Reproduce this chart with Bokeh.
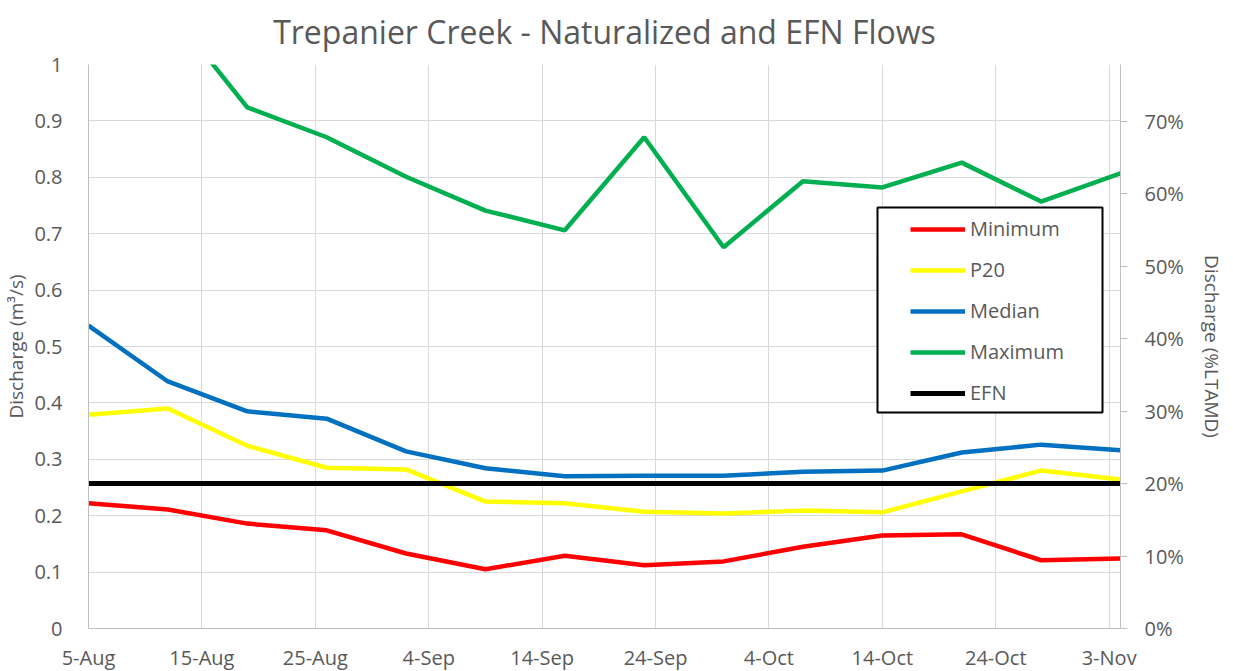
import pandas as pd
from bokeh.plotting import figure
from bokeh.models import (Range1d, LinearAxis, FixedTicker, PrintfTickFormatter,
                          Legend, LegendItem, BoxAnnotation)
from bokeh.embed import file_html
from bokeh.resources import INLINE

# ---------------- data ----------------
dates = ["2019-08-05", "2019-08-12", "2019-08-19", "2019-08-26", "2019-09-02",
         "2019-09-09", "2019-09-16", "2019-09-23", "2019-09-30", "2019-10-07",
         "2019-10-14", "2019-10-21", "2019-10-28", "2019-11-04"]
minimum = [0.222, 0.211, 0.186, 0.174, 0.133, 0.105, 0.129, 0.112, 0.119, 0.145,
           0.165, 0.167, 0.121, 0.124]
p20 = [0.379, 0.390, 0.324, 0.285, 0.282, 0.225, 0.222, 0.207, 0.204, 0.209,
       0.206, 0.243, 0.280, 0.264]
median = [0.537, 0.438, 0.385, 0.372, 0.314, 0.284, 0.270, 0.271, 0.271, 0.278,
          0.280, 0.312, 0.326, 0.316]
maximum = [1.25, 1.10, 0.924, 0.871, 0.801, 0.741, 0.706, 0.871, 0.676, 0.793,
           0.782, 0.826, 0.757, 0.807]
efn_value = 0.257
efn = [efn_value] * len(dates)
efn_pct_of_ltamd = 20.0
ltamd = efn_value / (efn_pct_of_ltamd / 100.0)

tick_dates = ["2019-08-05", "2019-08-15", "2019-08-25", "2019-09-04", "2019-09-14",
              "2019-09-24", "2019-10-04", "2019-10-14", "2019-10-24", "2019-11-03"]
tick_labels = ["5-Aug", "15-Aug", "25-Aug", "4-Sep", "14-Sep", "24-Sep", "4-Oct",
               "14-Oct", "24-Oct", "3-Nov"]
left_ticks = [0, 0.1, 0.2, 0.3, 0.4, 0.5, 0.6, 0.7, 0.8, 0.9, 1]
right_ticks = [0, 10, 20, 30, 40, 50, 60, 70]

# ---------------- derived ----------------
d0 = pd.Timestamp(dates[0])
xd = [(pd.Timestamp(d) - d0).days for d in dates]
xt = [(pd.Timestamp(d) - d0).days for d in tick_dates]

FONT = "Open Sans"
TXT = "#595959"
GRID = "#D9D9D9"
AXIS = "#BFBFBF"

p = figure(frame_width=1032, frame_height=564, output_backend="svg",
           toolbar_location=None,
           x_range=Range1d(xd[0], xd[-1]), y_range=Range1d(0, 1),
           min_border_left=88, min_border_right=105, min_border_top=63,
           min_border_bottom=40)
p.outline_line_color = None
p.background_fill_color = "white"
p.border_fill_color = "white"

p.title.text = "Trepanier Creek - Naturalized and EFN Flows"
p.title.align = "center"
p.title.vertical_align = "top"
p.title.text_font = FONT
p.title.text_font_size = "32px"
p.title.text_font_style = "normal"
p.title.text_color = TXT
p.title.standoff = 19

p.extra_y_ranges = {"pct": Range1d(0, 100.0 / ltamd)}

# lines
r_min = p.line(xd, minimum, line_color="#FF0000", line_width=4.5)
r_p20 = p.line(xd, p20, line_color="#FFFF00", line_width=4.5)
r_med = p.line(xd, median, line_color="#0070C0", line_width=4.5)
r_max = p.line(xd, maximum, line_color="#00B050", line_width=4.5)
r_efn = p.line(xd, efn, line_color="#000000", line_width=5)

# axes
xa = p.xaxis[0]
xa.ticker = FixedTicker(ticks=xt)
xa.major_label_overrides = {t: l for t, l in zip(xt, tick_labels)}
xa.major_tick_line_color = None
xa.minor_tick_line_color = None
xa.axis_line_color = AXIS
xa.major_label_text_font = FONT
xa.major_label_text_font_size = "20px"
xa.major_label_text_color = TXT
xa.major_label_standoff = 9

ya = p.yaxis[0]
ya.ticker = FixedTicker(ticks=left_ticks)
ya.major_label_overrides = {0: "0", 1: "1"}
ya.major_tick_line_color = None
ya.minor_tick_line_color = None
ya.axis_line_color = AXIS
ya.major_label_text_font = FONT
ya.major_label_text_font_size = "20px"
ya.major_label_text_color = TXT
ya.major_label_standoff = 20
ya.axis_label = "Discharge (m³/s)"
ya.axis_label_text_font = FONT
ya.axis_label_text_font_size = "19px"
ya.axis_label_text_font_style = "normal"
ya.axis_label_text_color = TXT
ya.axis_label_standoff = 2

ra = LinearAxis(y_range_name="pct", ticker=FixedTicker(ticks=right_ticks),
                formatter=PrintfTickFormatter(format="%d%%"))
ra.axis_line_color = AXIS
ra.major_tick_line_color = AXIS
ra.major_tick_in = 0
ra.major_tick_out = 7
ra.minor_tick_line_color = None
ra.major_label_text_font = FONT
ra.major_label_text_font_size = "20px"
ra.major_label_text_color = TXT
ra.major_label_standoff = 17
ra.axis_label = "Discharge (%LTAMD)"
ra.axis_label_text_font = FONT
ra.axis_label_text_font_size = "19px"
ra.axis_label_text_font_style = "normal"
ra.axis_label_text_color = TXT
ra.axis_label_standoff = 12
p.add_layout(ra, "right")

p.xgrid.ticker = FixedTicker(ticks=xt)
p.xgrid.grid_line_color = GRID
p.ygrid.ticker = FixedTicker(ticks=left_ticks)
p.ygrid.grid_line_color = GRID

# legend box
box = BoxAnnotation(left=877, right=1102, top=207, bottom=412,
                    left_units="canvas", right_units="canvas",
                    top_units="canvas", bottom_units="canvas",
                    fill_color="white", fill_alpha=1.0,
                    line_color="black", line_alpha=1.0, line_width=2)
p.add_layout(box)

legend = Legend(items=[LegendItem(label="Minimum", renderers=[r_min]),
                       LegendItem(label="P20", renderers=[r_p20]),
                       LegendItem(label="Median", renderers=[r_med]),
                       LegendItem(label="Maximum", renderers=[r_max]),
                       LegendItem(label="EFN", renderers=[r_efn])],
                location=(822, 222), margin=0, padding=0, spacing=14,
                glyph_width=55, glyph_height=20, label_standoff=5,
                label_text_font=FONT, label_text_font_size="20px",
                label_text_color=TXT, border_line_color=None,
                background_fill_alpha=0.0)
p.add_layout(legend)

open("out.html", "w").write(file_html(p, INLINE))
